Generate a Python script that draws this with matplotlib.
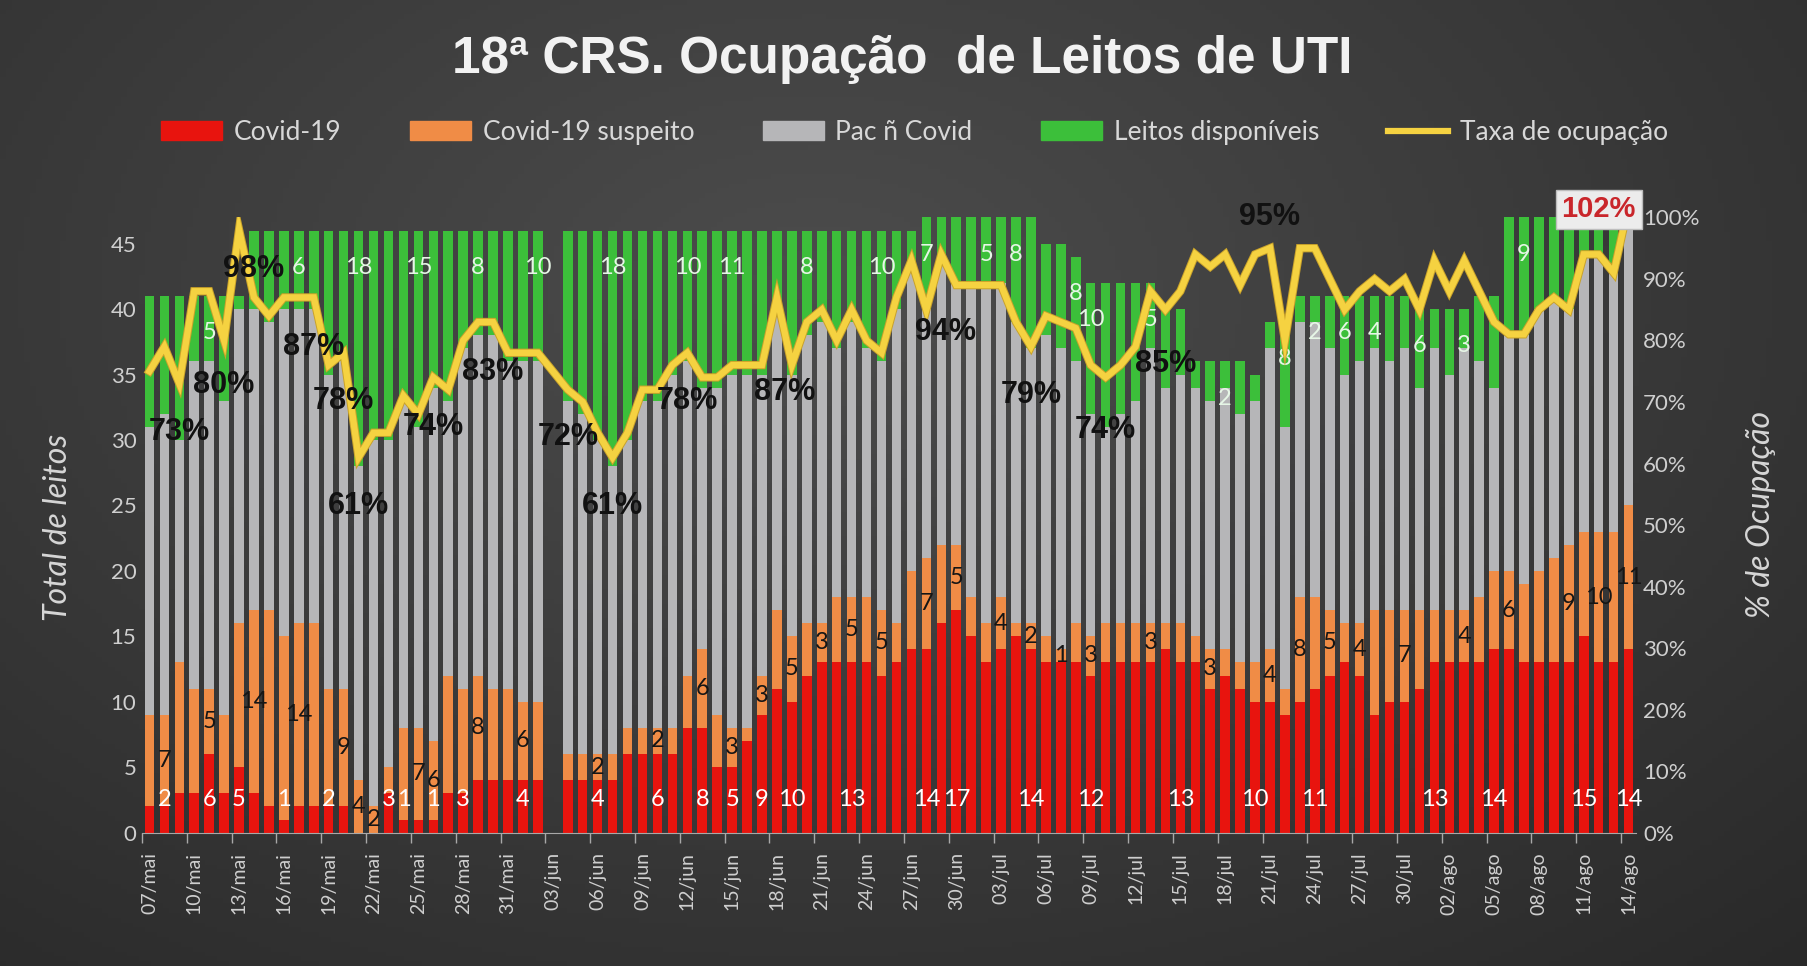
import numpy as np
import matplotlib
matplotlib.use("Agg")
import matplotlib.pyplot as plt
from matplotlib.patches import Patch
from matplotlib.lines import Line2D
import matplotlib.patheffects as pe

plt.rcParams['font.family'] = ['Lato', 'DejaVu Sans']

# leitos por dia, 07/mai a 14/ago (03/jun sem registro)
covid = [2, 2, 3, 3, 6, 3, 5, 3, 2, 1,
         2, 2, 2, 2, 0, 0, 3, 1, 1, 1,
         3, 3, 4, 4, 4, 4, 4, 0, 4, 4,
         4, 4, 6, 6, 6, 6, 8, 8, 5, 5,
         7, 9, 11, 10, 12, 13, 13, 13, 13, 12,
         13, 14, 14, 16, 17, 15, 13, 14, 15, 14,
         13, 13, 13, 12, 13, 13, 13, 13, 14, 13,
         13, 11, 12, 11, 10, 10, 9, 10, 11, 12,
         13, 12, 9, 10, 10, 11, 13, 13, 13, 13,
         14, 14, 13, 13, 13, 13, 15, 13, 13, 14]
suspeito = [7, 7, 10, 8, 5, 6, 11, 14, 15, 14,
            14, 14, 9, 9, 4, 2, 2, 7, 7, 6,
            9, 8, 8, 7, 7, 6, 6, 0, 2, 2,
            2, 2, 2, 2, 2, 2, 4, 6, 4, 3,
            1, 3, 6, 5, 4, 3, 5, 5, 5, 5,
            3, 6, 7, 6, 5, 3, 3, 4, 1, 2,
            2, 1, 3, 3, 3, 3, 3, 3, 2, 3,
            2, 3, 2, 2, 3, 4, 2, 8, 7, 5,
            3, 4, 8, 7, 7, 6, 4, 4, 4, 5,
            6, 6, 6, 7, 8, 9, 8, 10, 10, 11]
nao_covid = [22, 23, 17, 25, 25, 24, 24, 23, 22, 25,
             24, 24, 24, 25, 24, 28, 25, 25, 23, 27,
             21, 26, 26, 27, 25, 26, 26, 0, 27, 26,
             24, 22, 22, 25, 25, 27, 24, 20, 25, 27,
             27, 23, 23, 20, 22, 23, 19, 21, 19, 19,
             24, 23, 19, 22, 20, 24, 26, 24, 23, 21,
             23, 23, 20, 17, 15, 16, 17, 21, 18, 19,
             19, 19, 20, 19, 20, 23, 20, 21, 21, 20,
             19, 20, 20, 19, 20, 17, 20, 18, 20, 18,
             14, 18, 19, 20, 20, 18, 21, 21, 20, 23]
disponiveis = [10, 9, 11, 5, 5, 8, 1, 6, 7, 6,
               6, 6, 11, 10, 18, 16, 16, 13, 15, 12,
               13, 9, 8, 8, 10, 10, 10, 0, 13, 14,
               16, 18, 16, 13, 13, 11, 10, 12, 12, 11,
               11, 11, 6, 11, 8, 7, 9, 7, 9, 10,
               6, 3, 7, 3, 5, 5, 5, 5, 8, 10,
               7, 8, 8, 10, 11, 10, 9, 5, 6, 5,
               2, 3, 2, 4, 2, 2, 8, 2, 2, 4,
               6, 5, 4, 5, 4, 6, 3, 5, 3, 5,
               7, 9, 9, 7, 6, 7, 3, 3, 4, 0]
taxa = [.75, .79, .73, .88, .88, .80, .98, .87, .84, .87,
        .87, .87, .76, .78, .61, .65, .65, .71, .68, .74,
        .72, .80, .83, .83, .78, .78, .78, np.nan, .72, .70,
        .65, .61, .65, .72, .72, .76, .78, .74, .74, .76,
        .76, .76, .87, .76, .83, .85, .80, .85, .80, .78,
        .87, .93, .85, .94, .89, .89, .89, .89, .83, .79,
        .84, .83, .82, .76, .74, .76, .79, .88, .85, .88,
        .94, .92, .94, .89, .94, .95, .80, .95, .95, .90,
        .85, .88, .90, .88, .90, .85, .93, .88, .93, .88,
        .83, .81, .81, .85, .87, .85, .94, .94, .91, 1.02]

datas = ["07/mai", "10/mai", "13/mai", "16/mai", "19/mai", "22/mai", "25/mai",
         "28/mai", "31/mai", "03/jun", "06/jun", "09/jun", "12/jun", "15/jun",
         "18/jun", "21/jun", "24/jun", "27/jun", "30/jun", "03/jul", "06/jul",
         "09/jul", "12/jul", "15/jul", "18/jul", "21/jul", "24/jul", "27/jul",
         "30/jul", "02/ago", "05/ago", "08/ago", "11/ago", "14/ago"]

# quais barras recebem rótulo
rot_covid = [1, 4, 6, 9, 12, 16, 17, 19, 21, 25, 30, 34, 37, 39, 41, 43, 47,
             52, 54, 59, 63, 69, 74, 78, 86, 90, 96, 99]
rot_susp = [1, 4, 7, 10, 13, 14, 15, 18, 19, 22, 25, 30, 34, 37, 39, 41, 43,
            45, 47, 49, 52, 54, 57, 59, 61, 63, 67, 71, 75, 77, 79, 81, 84,
            88, 91, 95, 97, 99]
rot_disp = [4, 10, 14, 18, 22, 26, 31, 36, 39, 44, 49, 52, 56, 58, 62, 63, 67,
            72, 76, 78, 80, 82, 85, 88, 92]
# (índice, deslocamento x, deslocamento y) dos rótulos da taxa
rot_taxa = [(2, 0, -.079), (5, 0, -.072), (6, 1.0, -.064), (11, 0, -.081),
            (13, 0, -.079), (14, 0, -.079), (19, 0, -.081), (23, 0, -.081),
            (28, 0, -.077), (31, 0, -.079), (36, 0, -.079), (42, 0.5, -.153),
            (53, 0.3, -.127), (59, 0, -.079), (64, 0, -.085), (68, 0, -.089),
            (75, 0, .05)]

C_RED = '#e8140e'
C_ORG = '#f08c46'
C_GRY = '#b6b6b8'
C_GRN = '#3cbf3a'
C_YEL = '#f5d241'
C_TXT = '#cfcfcf'

fig = plt.figure(figsize=(18.08, 9.66), dpi=100)

# fundo cinza escuro com leve degradê
bg = fig.add_axes([0, 0, 1, 1], zorder=-5)
yy, xx = np.mgrid[0:1:200j, 0:1:300j]
d = np.sqrt(((xx - 0.45) / 0.75) ** 2 + ((yy - 0.3) / 0.9) ** 2)
lev = np.clip(0.30 - 0.13 * d, 0.13, 0.31)
bg.imshow(np.dstack([lev, lev, lev]), extent=[0, 1, 0, 1], aspect='auto')
bg.axis('off')

ax = fig.add_axes([0.0785, 0.1381, 0.8264, 0.6368])
ax.patch.set_alpha(0)

x = np.arange(len(covid))
red = np.array(covid)
org = np.array(suspeito)
gry = np.array(nao_covid)
grn = np.array(disponiveis)
w = 0.64
ax.bar(x, red, width=w, color=C_RED, linewidth=0)
ax.bar(x, org, width=w, bottom=red, color=C_ORG, linewidth=0)
ax.bar(x, gry, width=w, bottom=red + org, color=C_GRY, linewidth=0)
ax.bar(x, grn, width=w, bottom=red + org + gry, color=C_GRN, linewidth=0)

ax.set_xlim(-0.5, len(x) - 0.5)
ax.set_ylim(0, 47)
ax.set_yticks(range(0, 50, 5))
ax.tick_params(axis='y', length=0, pad=4, labelsize=16, labelcolor=C_TXT)
ax.set_xticks(range(0, 100, 3))
ax.set_xticklabels(datas, rotation=90)
ax.set_xticks(np.arange(0, 100, 3) - 0.5, minor=True)
ax.tick_params(axis='x', which='major', length=0, pad=14, labelsize=14, labelcolor=C_TXT)
ax.tick_params(axis='x', which='minor', length=7, width=1, color='#a8a8a8')
for s in ['left', 'right', 'top']:
    ax.spines[s].set_visible(False)
ax.spines['bottom'].set_color('#a8a8a8')

for i in rot_covid:
    ax.text(i, 2.5, str(covid[i]), ha='center', va='center', color='white', fontsize=17)
for i in rot_susp:
    ax.text(i, covid[i] + suspeito[i] / 2, str(suspeito[i]), ha='center', va='center',
            color='#151515', fontsize=17)
for i in rot_disp:
    tot = covid[i] + suspeito[i] + nao_covid[i] + disponiveis[i]
    ax.text(i, tot - 2.8, str(disponiveis[i]), ha='center', va='center',
            color='#e6f6e6', fontsize=17)

# taxa de ocupação no eixo da direita
ax2 = ax.twinx()
ax2.set_zorder(ax.get_zorder() + 1)
ax2.patch.set_visible(False)
t = np.array(taxa)
ok = ~np.isnan(t)
ax2.plot(x[ok], t[ok], color=C_YEL, lw=4.6, solid_joinstyle='miter',
         path_effects=[pe.Stroke(linewidth=6.0, foreground='#c9a22a'), pe.Normal()])
ax2.set_ylim(0, 1.0)
ax2.set_yticks(np.arange(0, 1.01, 0.1))
ax2.set_yticklabels([f"{int(round(v * 100))}%" for v in np.arange(0, 1.01, 0.1)])
ax2.tick_params(axis='y', length=0, pad=5, labelsize=16, labelcolor=C_TXT)
for s in ['left', 'right', 'top', 'bottom']:
    ax2.spines[s].set_visible(False)

for i, dx, dy in rot_taxa:
    ax2.text(i + dx, taxa[i] + dy, f"{int(round(taxa[i] * 100))}%", ha='center', va='center',
             color='#111111', fontsize=22, fontweight='bold', family='Liberation Sans')
ax2.text(97, 1.013, f"{int(round(taxa[99] * 100))}%", ha='center', va='center',
         color='#c9262b', fontsize=21, fontweight='bold', family='Liberation Sans',
         bbox=dict(boxstyle='square,pad=0.2', facecolor='#ececec', edgecolor='#bdbdbd'))

fig.text(0.032, 0.454, "Total de leitos", rotation=90, ha='center', va='center',
         style='italic', fontsize=23, color='#d6d6d6')
fig.text(0.974, 0.467, "% de Ocupação", rotation=90, ha='center', va='center',
         style='italic', fontsize=23, color='#d6d6d6')

fig.text(0.499, 0.938, "18ª CRS. Ocupação  de Leitos de UTI", ha='center', va='center',
         fontsize=37, fontweight='bold', color='#f2f2f2', family='Liberation Sans')

handles = [Patch(color=C_RED), Patch(color=C_ORG), Patch(color=C_GRY), Patch(color=C_GRN),
           Line2D([], [], color=C_YEL, lw=4.5)]
nomes = ["Covid-19", "Covid-19 suspeito", "Pac ñ Covid", "Leitos disponíveis", "Taxa de ocupação"]
fig.legend(handles, nomes, loc='center', bbox_to_anchor=(0.506, 0.863), ncol=5,
           frameon=False, fontsize=19, labelcolor='#d8d8d8', handlelength=2.3,
           handleheight=0.7, handletextpad=0.45, columnspacing=2.6)

fig.savefig("out.png", dpi=100)
